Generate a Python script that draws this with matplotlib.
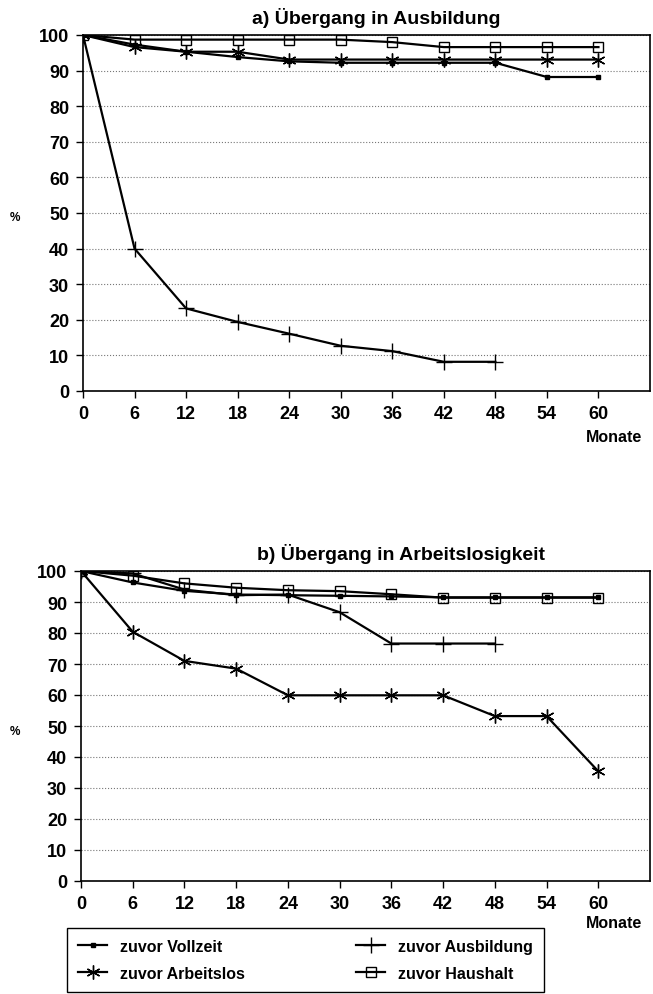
import numpy as np
import matplotlib
matplotlib.use("Agg")
import matplotlib.pyplot as plt

plt.rcParams['font.family'] = ['Liberation Sans', 'DejaVu Sans']
plt.rcParams['font.weight'] = 'bold'

# Data
months = [0, 6, 12, 18, 24, 30, 36, 42, 48, 54, 60]
months_ausb = [0, 6, 12, 18, 24, 30, 36, 42, 48]

a_vollzeit = [100, 97.3, 95.3, 93.8, 92.6, 92.2, 92.2, 92.2, 92.2, 88.2, 88.2]
a_arbeitslos = [100, 96.6, 95.3, 95.3, 93.1, 93.1, 93.1, 93.1, 93.1, 93.1, 93.1]
a_ausbildung = [100, 40.0, 23.2, 19.4, 16.1, 12.7, 11.2, 8.2, 8.2]
a_haushalt = [100, 98.7, 98.7, 98.7, 98.7, 98.7, 98.0, 96.6, 96.6, 96.6, 96.6]

b_vollzeit = [100, 96.3, 93.6, 92.4, 92.2, 92.0, 91.8, 91.5, 91.5, 91.5, 91.5]
b_arbeitslos = [100, 80.4, 71.0, 68.5, 59.9, 59.9, 59.9, 59.9, 53.2, 53.2, 35.4]
b_ausbildung = [100, 99.2, 94.0, 92.2, 92.4, 86.7, 76.6, 76.6, 76.6]
b_haushalt = [100, 98.5, 96.0, 94.6, 93.8, 93.5, 92.5, 91.4, 91.4, 91.4, 91.4]

labels = ["zuvor Vollzeit", "zuvor Arbeitslos", "zuvor Ausbildung", "zuvor Haushalt"]
xticks = list(range(0, 61, 6))
yticks = list(range(0, 101, 10))

W, H = 653, 995
fig = plt.figure(figsize=(W / 100, H / 100), dpi=100)

# axes rectangles from pixel positions
ax_a = fig.add_axes([83 / W, 1 - 392 / H, 567 / W, 356 / H])
ax_b = fig.add_axes([81 / W, 1 - 882 / H, 569 / W, 310 / H])

asterisk = (6, 2, 0)


def draw_panel(ax, vz, al, ab, hh, title, title_x):
    lv, = ax.plot(months, vz, color='black', lw=1.6, marker='s', ms=2.5, label=labels[0])
    la, = ax.plot(months, al, color='black', lw=1.6, marker=asterisk, ms=10, mew=1.0, label=labels[1])
    lb, = ax.plot(months_ausb, ab, color='black', lw=1.6, marker='+', ms=11, mew=1.0, label=labels[2])
    lh, = ax.plot(months, hh, color='black', lw=1.6, marker='s', ms=7, mfc='none', mew=1.0, label=labels[3])
    ax.set_xlim(0, 66)
    ax.set_ylim(0, 100)
    ax.set_xticks(xticks)
    ax.set_yticks(yticks)
    ax.tick_params(axis='both', direction='out', length=5, width=1, labelsize=13, pad=5)
    for lab in ax.get_xticklabels() + ax.get_yticklabels():
        lab.set_fontweight('bold')
    ax.grid(axis='y', linestyle=':', color='#777777', lw=0.8)
    for sp in ax.spines.values():
        sp.set_linewidth(1.2)
    ax.set_title(title, x=title_x, fontsize=14, fontweight='bold', pad=9)
    return [lv, la, lb, lh]


handles = draw_panel(ax_a, a_vollzeit, a_arbeitslos, a_ausbildung, a_haushalt,
                     "a) Übergang in Ausbildung", 0.517)
draw_panel(ax_b, b_vollzeit, b_arbeitslos, b_ausbildung, b_haushalt,
           "b) Übergang in Arbeitslosigkeit", 0.562)

fig.text(10 / W, 1 - 218 / H, "%", fontsize=8.5, fontweight='bold', va='center')
fig.text(10 / W, 1 - 732 / H, "%", fontsize=8.5, fontweight='bold', va='center')
fig.text(614 / W, 1 - 437 / H, "Monate", fontsize=11.5, fontweight='bold', ha='center', va='center')
fig.text(614 / W, 1 - 924 / H, "Monate", fontsize=11.5, fontweight='bold', ha='center', va='center')

leg = fig.legend(handles, labels, ncol=2, loc='lower left',
                 bbox_to_anchor=(67 / W, 2 / H),
                 prop={'size': 11.5, 'weight': 'bold'}, fancybox=False,
                 edgecolor='black', framealpha=1, borderaxespad=0,
                 handlelength=1.8, labelspacing=0.75, columnspacing=7.0,
                 borderpad=0.7)
leg.get_frame().set_linewidth(1.0)

fig.savefig("out.png", dpi=100)
